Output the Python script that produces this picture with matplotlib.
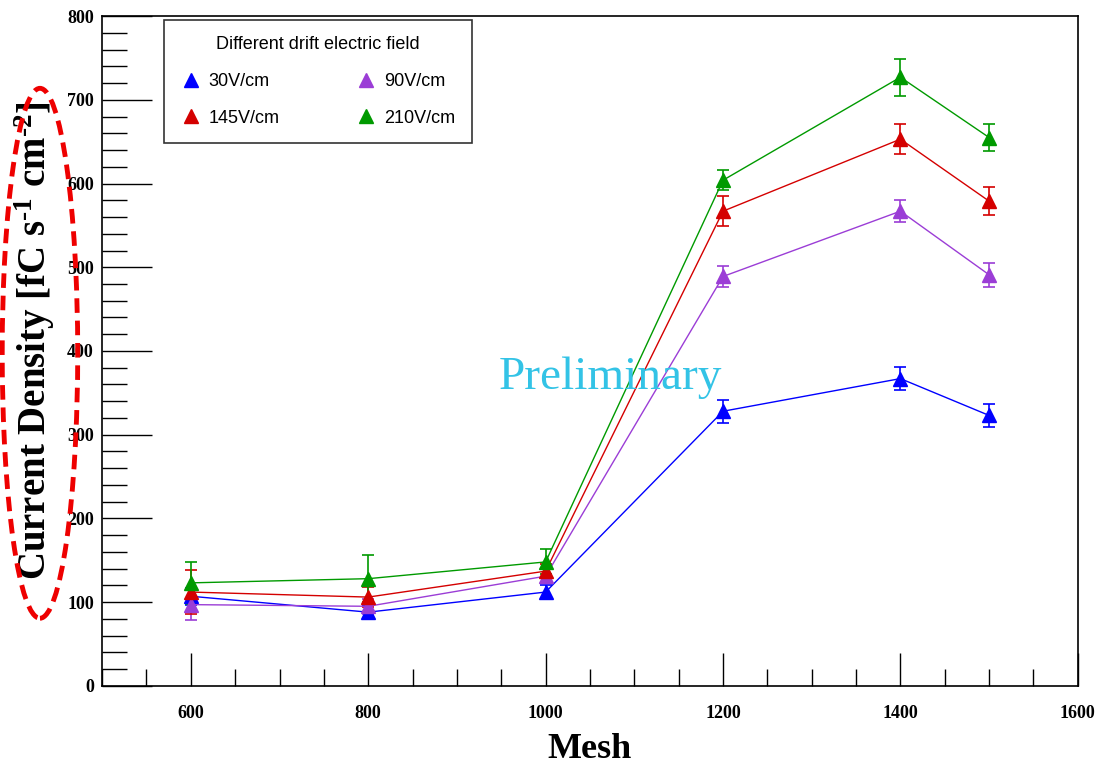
import numpy as np
import matplotlib.pyplot as plt
from matplotlib.patches import Ellipse
from matplotlib.ticker import MultipleLocator

plt.rcParams['mathtext.fontset'] = 'custom'
plt.rcParams['mathtext.rm'] = 'Liberation Serif:bold'
plt.rcParams['mathtext.it'] = 'Liberation Serif:bold'
plt.rcParams['mathtext.bf'] = 'Liberation Serif:bold'

mesh = [600, 800, 1000, 1200, 1400, 1500]

labels = ['30V/cm', '145V/cm', '90V/cm', '210V/cm']
colors = ['#0000ff', '#d40000', '#9b3dd6', '#009a00']

j30 = [107, 88, 112, 328, 367, 323]
e30 = [10, 8, 8, 14, 14, 14]
j145 = [112, 106, 137, 567, 653, 579]
e145 = [26, 12, 8, 18, 18, 17]
j90 = [97, 95, 131, 489, 567, 491]
e90 = [18, 9, 8, 13, 13, 14]
j210 = [123, 128, 148, 604, 727, 655]
e210 = [25, 28, 15, 12, 22, 16]

series = [j30, j145, j90, j210]
errors = [e30, e145, e90, e210]

fig = plt.figure(figsize=(11.1, 7.68), dpi=100)
ax = fig.add_axes([0.092, 0.107, 0.879, 0.872])

for i in [0, 2, 1, 3]:
    ax.errorbar(mesh, series[i], yerr=errors[i], color=colors[i], marker='^',
                markersize=10, linewidth=1.0, elinewidth=1.2, capsize=4,
                capthick=1.2, label=labels[i])

ax.set_xlim(500, 1600)
ax.set_ylim(0, 800)
ax.xaxis.set_major_locator(MultipleLocator(200))
ax.xaxis.set_minor_locator(MultipleLocator(50))
ax.yaxis.set_major_locator(MultipleLocator(100))
ax.yaxis.set_minor_locator(MultipleLocator(20))
ax.tick_params(axis='y', which='major', direction='in', length=36, width=1, pad=6)
ax.tick_params(axis='y', which='minor', direction='in', length=18, width=1)
ax.tick_params(axis='x', which='major', direction='in', length=24, width=1, pad=14)
ax.tick_params(axis='x', which='minor', direction='in', length=12, width=1)
for lab in ax.get_xticklabels() + ax.get_yticklabels():
    lab.set_family('Liberation Serif')
    lab.set_fontweight('bold')
    lab.set_fontsize(13)
for s in ax.spines.values():
    s.set_linewidth(1.2)

ax.set_xlabel('Mesh', family='Liberation Serif', fontweight='bold', fontsize=26)
ax.xaxis.set_label_coords(0.5, -0.07)
ax.set_ylabel(r'Current Density [fC s$^{\text{-1}}$ cm$^{\text{-2}}$]', family='Liberation Serif',
              fontweight='bold', fontsize=28)
ax.yaxis.set_label_coords(-0.046, 0.516)

ax.text(1073, 368, 'Preliminary', color='#33c3e6', family='Liberation Serif',
        fontsize=34, ha='center', va='center')

leg_handles = [plt.Line2D([], [], color=c, marker='^', linestyle='none', markersize=10) for c in colors]
leg = ax.legend(leg_handles, labels, ncol=2, loc='upper left', bbox_to_anchor=(0.063, 0.994),
                borderaxespad=0, title='Different drift electric field', frameon=True,
                fancybox=False, edgecolor='black', prop={'family': 'Liberation Sans', 'size': 13},
                title_fontproperties={'family': 'Liberation Sans', 'size': 13},
                handletextpad=0.4, columnspacing=4.2, labelspacing=1.1, borderpad=0.9,
                handlelength=1.2)
leg.get_frame().set_linewidth(1.2)
leg._legend_box.sep = 14

ell = Ellipse((0.036, 0.54), 0.068, 0.69, transform=fig.transFigure, fill=False,
              edgecolor='#ee0000', linewidth=3.5, linestyle=(0, (3, 1.6)))
fig.patches.append(ell)

fig.savefig('out.png', dpi=100)
